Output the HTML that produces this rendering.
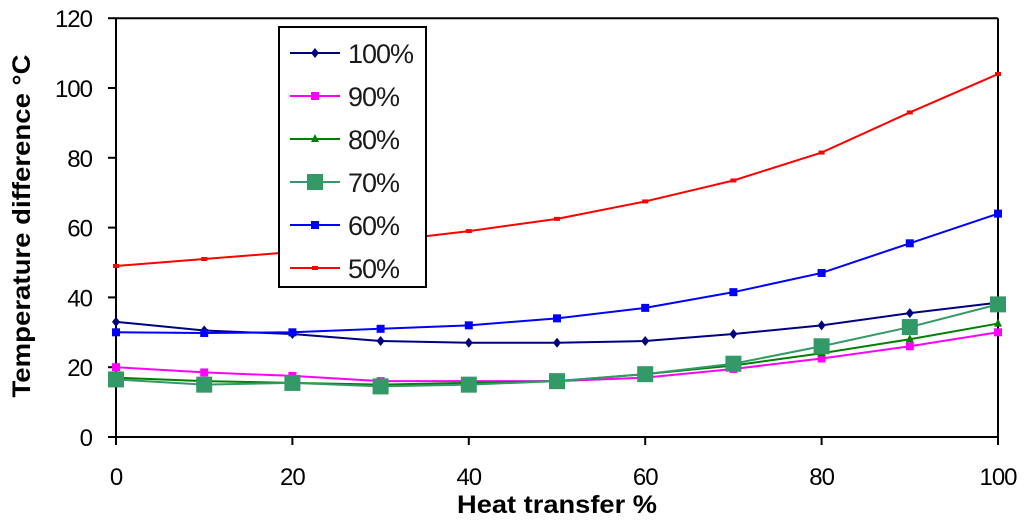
<!DOCTYPE html>
<html><head><meta charset="utf-8"><style>
body{margin:0;background:#fff;}
svg{display:block;font-family:"Liberation Sans",Arial,sans-serif;}
</style></head><body>
<svg id="chart" width="1024" height="522">
<g id="axes"></g><g id="series"></g><g id="legend"></g>
<text x="557" y="513" text-anchor="middle" font-size="25" font-weight="bold" textLength="200" lengthAdjust="spacingAndGlyphs">Heat transfer %</text>
<text transform="translate(30,226) rotate(-90)" text-anchor="middle" font-size="25" font-weight="bold" textLength="343" lengthAdjust="spacingAndGlyphs">Temperature difference °C</text>
</svg>
<script>
const xCats=[0,10,20,30,40,50,60,70,80,90,100];
const xTicks=[0,20,40,60,80,100];
const yTicks=[0,20,40,60,80,100,120];
const s100=[33,30.5,29.5,27.5,27,27,27.5,29.5,32,35.5,38.5];
const s90=[20,18.5,17.5,16,16,16,17,19.5,22.5,26,30];
const s80=[17,16,15.5,15,15.5,16,18,20.5,24,28,32.5];
const s70=[16.5,15,15.5,14.5,15,16,18,21,26,31.5,38];
const s60=[30,29.8,30,31,32,34,37,41.5,47,55.5,64];
const s50=[49,51,53,56,59,62.5,67.5,73.5,81.5,93,104];
const labels=["100%","90%","80%","70%","60%","50%"];
const colors=["#000080","#ff00ff","#008000","#339966","#0000ff","#ff0000"];
const NS="http://www.w3.org/2000/svg";
const X=v=>116+v*8.82, Y=v=>437-v*3.49;
function mk(t,a,p){const e=document.createElementNS(NS,t);for(const k in a)e.setAttribute(k,a[k]);p.appendChild(e);return e;}
const ax=document.getElementById('axes');
let yl=mk('line',{x1:116,y1:Y(120),x2:116,y2:437,stroke:'#000','stroke-width':2},ax);


let xl=mk('line',{x1:108,y1:437,x2:998,y2:437,stroke:'#000','stroke-width':2},ax);


let rl=mk('line',{x1:998,y1:Y(120),x2:998,y2:445,stroke:'#000','stroke-width':2},ax);


let tl=mk('line',{x1:116,y1:Y(120),x2:998,y2:Y(120),stroke:'#000','stroke-width':2},ax);


yTicks.forEach(v=>{
 mk('line',{x1:108,y1:Y(v),x2:116,y2:Y(v),stroke:'#000','stroke-width':2},ax);
 const t=mk('text',{x:92,y:Y(v)+9,'text-anchor':'end','font-size':24,transform:'',style:'letter-spacing:-1px'},ax);t.textContent=v;
 
 
});
xTicks.forEach(v=>{
 mk('line',{x1:X(v),y1:437,x2:X(v),y2:445,stroke:'#000','stroke-width':2},ax);
 const t=mk('text',{x:X(v),y:485,'text-anchor':'middle','font-size':24,style:'letter-spacing:-1px'},ax);t.textContent=v;
 
 
});
const all=[s100,s90,s80,s70,s60,s50];
const sg=document.getElementById('series');
function marker(i,x,y,p){
 const c=colors[i];
 if(i==3) return mk('rect',{x:x-8,y:y-8,width:16,height:16,fill:c},p);
 if(i==0) return mk('path',{d:`M${x},${y-5}L${x+4},${y}L${x},${y+5}L${x-4},${y}Z`,fill:c},p);
 if(i==2) return mk('path',{d:`M${x},${y-5}L${x+4},${y+3}L${x-4},${y+3}Z`,fill:c},p);
 if(i==5) return mk('rect',{x:x-3,y:y-2,width:6,height:4,fill:c},p);
 return mk('rect',{x:x-4,y:y-4,width:8,height:8,fill:c},p);
}
all.forEach((s,i)=>{
 const g=mk('g',{},sg);
 
 
 mk('polyline',{points:s.map((v,j)=>X(xCats[j])+','+Y(v)).join(' '),fill:'none',stroke:colors[i],'stroke-width':2},g);
 s.forEach((v,j)=>{const m=marker(i,X(xCats[j]),Y(v),g);
  
  });
});
const lg=document.getElementById('legend');
const box=mk('rect',{x:279,y:27,width:147,height:260,fill:'#fff',stroke:'#000','stroke-width':2},lg);


labels.forEach((l,i)=>{
 const y=53+i*43;
 const g=mk('g',{},lg);
 
 
 mk('line',{x1:290,y1:y,x2:340,y2:y,stroke:colors[i],'stroke-width':2},g);
 marker(i,315,y,g);
 const t=mk('text',{x:348,y:y+10,'font-size':27,fill:'#1a1a1a',style:'letter-spacing:-1px'},g);t.textContent=l;
});
</script>
</body></html>
